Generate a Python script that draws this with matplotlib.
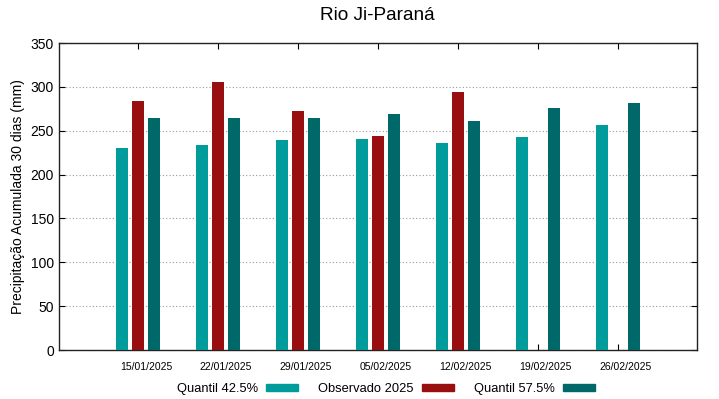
import matplotlib
matplotlib.use("Agg")
import numpy as np
import matplotlib.pyplot as plt
from matplotlib.patches import Patch

plt.rcParams["font.family"] = ["Liberation Sans", "DejaVu Sans"]

datas = ["15/01/2025", "22/01/2025", "29/01/2025", "05/02/2025",
         "12/02/2025", "19/02/2025", "26/02/2025"]
q425 = [230, 234, 239, 240, 236, 243, 257]
obs2025 = [284, 306, 273, 244, 294, np.nan, np.nan]
q575 = [264, 264, 265, 269, 261, 276, 282]

c_q425 = "#009b9b"
c_obs = "#990f0f"
c_q575 = "#006868"

fig = plt.figure(figsize=(7.19, 3.99), dpi=100)
ax = fig.add_axes([0.082, 0.1228, 0.887, 0.7694])

x = np.arange(len(datas))
w = 0.15
ax.bar(x - 0.2, q425, w, color=c_q425, zorder=3)
ax.bar(x, obs2025, w, color=c_obs, zorder=3)
ax.bar(x + 0.2, q575, w, color=c_q575, zorder=3)

ax.set_xlim(-0.9875, 6.9875)
ax.set_ylim(0, 350)
ax.set_yticks(np.arange(0, 351, 50))
# major ticks at group centre, labels slightly to the right (gnuplot style)
ax.set_xticks(x)
ax.set_xticklabels([])
ax.set_xticks(x + 0.1, minor=True)
ax.set_xticklabels(datas, minor=True, fontsize=7.5)

ax.tick_params(axis="x", which="major", direction="in", top=True, length=4)
ax.tick_params(axis="x", which="minor", length=0, pad=8.5)
ax.tick_params(axis="y", direction="in", right=True, length=4, labelsize=10)
ax.yaxis.grid(True, linestyle=(0, (1, 2)), color="#999999", linewidth=0.8, zorder=0)
for s in ax.spines.values():
    s.set_linewidth(1.0)
    s.set_color("#222222")

ax.set_ylabel("Precipitação Acumulada 30 dias (mm)", fontsize=10)
fig.text(0.525, 0.962, "Rio Ji-Paraná", ha="center", va="center", fontsize=13.7)

handles = [Patch(color=c_q425), Patch(color=c_obs), Patch(color=c_q575)]
labels = ["Quantil 42.5%", "Observado 2025", "Quantil 57.5%"]
fig.legend(handles, labels, ncol=3, loc="center", bbox_to_anchor=(0.537, 0.024),
           frameon=False, markerfirst=False, fontsize=9.3, handlelength=2.5,
           handleheight=0.47, columnspacing=1.55, handletextpad=0.62)

fig.savefig("out.png", dpi=100)
